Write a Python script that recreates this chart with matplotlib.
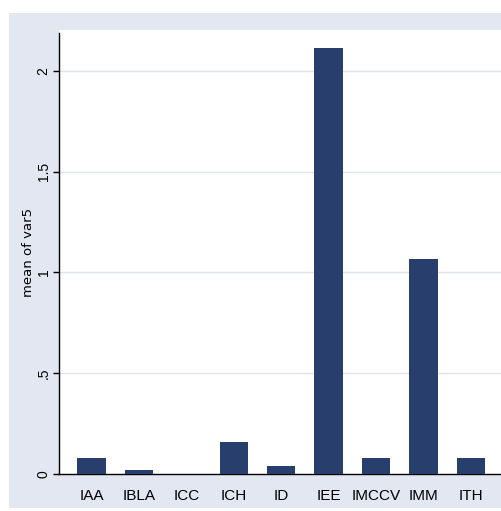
import numpy as np
import matplotlib.pyplot as plt
from matplotlib.patches import Rectangle

categories = ['IAA', 'IBLA', 'ICC', 'ICH', 'ID', 'IEE', 'IMCCV', 'IMM', 'ITH']
mean_var5 = [0.081, 0.021, 0.0, 0.16, 0.041, 2.114, 0.081, 1.067, 0.081]
y_ticks = [0, 0.5, 1, 1.5, 2]
y_tick_labels = ['0', '.5', '1', '1.5', '2']

bar_color = '#283F6D'
bg_color = '#E2E7F1'
grid_color = '#DCE2EE'
fonts = ['Liberation Sans', 'DejaVu Sans']

fig = plt.figure(figsize=(5.02, 5.11), dpi=100)
fig.patch.set_facecolor('white')

# outer graph region (Stata style)
fig.patches.append(Rectangle((9 / 502, 3 / 511), 493 / 502, 495 / 511,
                             transform=fig.transFigure, facecolor=bg_color,
                             edgecolor='none', zorder=-10))

ax = fig.add_axes([59 / 502, 37 / 511, 443 / 502, 444 / 511])
ax.set_zorder(5)
ax.set_facecolor('white')

x = np.arange(len(categories))
ax.bar(x, mean_var5, width=0.6, color=bar_color, zorder=3)

ax.set_xlim(-0.69, 8.66)
ax.set_ylim(0, 2.203)

ax.set_yticks(y_ticks)
ax.set_yticklabels(y_tick_labels, rotation=90, va='center', ha='center',
                   family=fonts, fontsize=10)
ax.set_xticks(x)
ax.set_xticklabels(categories, family=fonts, fontsize=11)
ax.tick_params(axis='x', length=0, pad=11)
ax.tick_params(axis='y', length=4, width=1, pad=7)

for v in y_ticks[1:]:
    ax.axhline(v, color=grid_color, linewidth=1, zorder=1)

for side in ['top', 'right']:
    ax.spines[side].set_visible(False)
ax.spines['left'].set_linewidth(1)
ax.spines['bottom'].set_linewidth(1)
ax.spines['left'].set_bounds(0, 2.19)

ax.set_ylabel('mean of var5', fontsize=9.5, va='center')
ax.yaxis.set_label_coords(-31 / 443, 0.5)

fig.savefig('out.png', dpi=100, facecolor=fig.get_facecolor())
